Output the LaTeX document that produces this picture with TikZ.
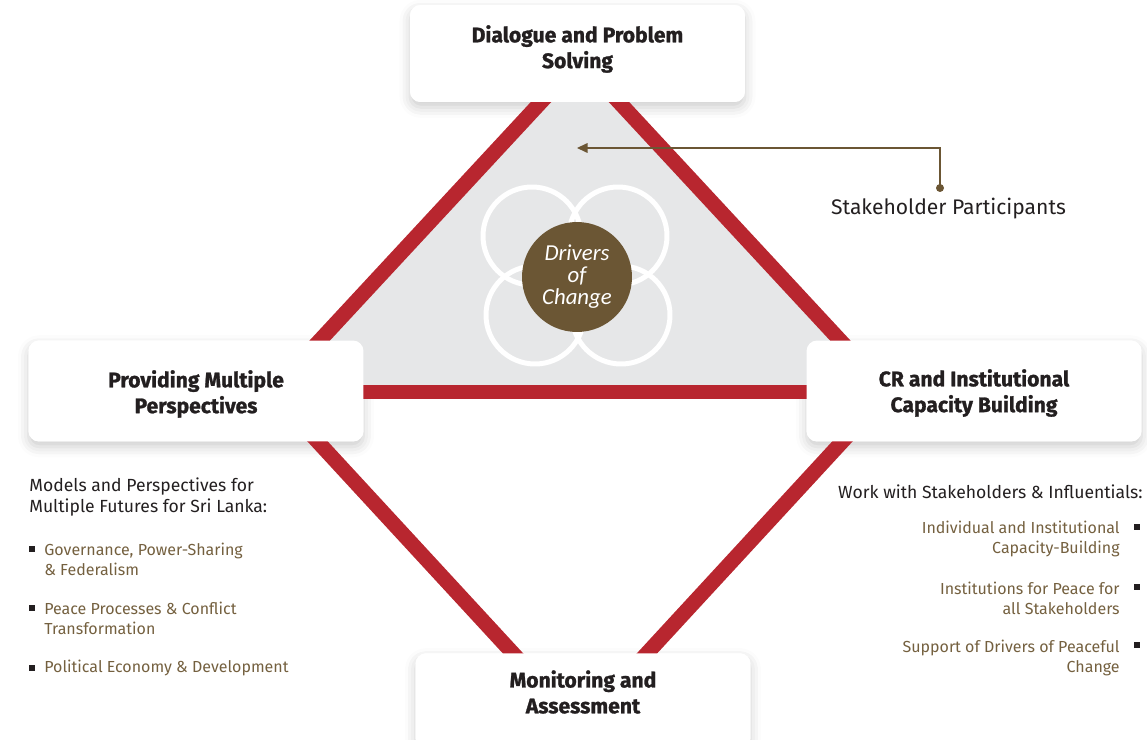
\documentclass[tikz,border=0pt]{standalone}
\usepackage{fontspec}
\setmainfont{Fira Sans}[BoldFeatures={FakeBold=1.2}]
\newfontfamily\driverfont{Carlito}
\usetikzlibrary{arrows.meta, positioning, shadows.blur}
\definecolor{diamondred}{HTML}{B8262F}
\definecolor{bandgrey}{HTML}{E6E7E8}
\definecolor{driverbrown}{HTML}{6B5634}
\definecolor{itembrown}{HTML}{74603F}
\definecolor{textdark}{HTML}{231F20}
\tikzset{
  redline/.style={draw=diamondred, line width=0.3cm},
  ring/.style={draw=white, line width=0.1cm},
  driver/.style={circle, fill=driverbrown, minimum size=2.2cm, inner sep=0pt, align=center,
    text=white, font=\driverfont\itshape\fontsize{13}{12.5}\selectfont},
  stagebox/.style={fill=white, rounded corners=6pt, minimum width=6.7cm, minimum height=2cm},
  stageshadow/.style={stagebox,
    blur shadow={shadow xshift=0pt, shadow yshift=-3pt, shadow blur radius=6pt, shadow opacity=20}},
  stagetitle/.style={align=center, text=textdark, font=\bfseries\fontsize{12}{14.7}\selectfont},
  pointer/.style={draw=driverbrown, line width=0.7pt, -{Triangle[length=6pt, width=5.5pt]}},
  note/.style={text=textdark, font=\fontsize{12}{14}\selectfont},
  heading/.style={inner sep=0pt, align=left, text=textdark, font=\fontsize{10}{12.5}\selectfont},
  item/.style={inner sep=0pt, align=left, text=itembrown, font=\fontsize{9.1}{11.3}\selectfont},
  bulletsq/.style={rectangle, fill=textdark, minimum size=0.11cm, inner sep=0pt}
}
\begin{document}
\begin{tikzpicture}[x=0.02cm, y=-0.02cm, >=stealth]
  \useasboundingbox (0,0) rectangle (1147,740);

  % Shadows under the stage boxes
  \node[stageshadow, minimum height=1.94cm] (dialogueshadow) at (577.5,53.5) {};
  \node[stageshadow, minimum height=2.02cm] (perspectivesshadow) at (196,391) {};
  \node[stageshadow, minimum height=2.02cm] (capacityshadow) at (974,391) {};
  \node[stageshadow, minimum height=1.9cm, anchor=north] (monitoringshadow) at (583,653) {};

  % Diamond
  \coordinate (dtop) at (580,60);
  \coordinate (dleft) at (272,392);
  \coordinate (dright) at (888,392);
  \coordinate (dbottom) at (580,726);
  \fill[bandgrey] (dtop) -- (dright) -- (dleft) -- cycle;
  \draw[redline] (dtop) -- (dright) -- (dbottom) -- (dleft) -- cycle;
  \draw[redline] (dleft) -- (dright);

  % Rings
  \draw[ring] (532,236) circle (0.98cm);
  \draw[ring] (618,236) circle (0.98cm);
  \draw[ring] (535,315) circle (0.98cm);
  \draw[ring] (621,315) circle (0.98cm);
  \node[driver] (drivers) at (577,277) {Drivers\\of\\Change};

  % Stakeholders
  \coordinate (stkdot) at (940,188);
  \coordinate (stktip) at (577,148);
  \draw[pointer] (stkdot) |- (stktip);
  \fill[driverbrown] (stkdot) circle (0.08cm);
  \node[note] (stk) at (948.5,209) {Stakeholder Participants};

  % Stages
  \node[stagebox, minimum height=1.94cm] (dialogue) at (577.5,53.5) {};
  \node[stagetitle] (dialoguetitle) at (577.5,49) {Dialogue and Problem\\Solving};
  \node[stagebox, minimum height=2.02cm] (perspectives) at (196,391) {};
  \node[stagetitle] (perspectivestitle) at (196,394) {Providing Multiple\\Perspectives};
  \node[stagebox, minimum height=2.02cm] (capacity) at (974,391) {};
  \node[stagetitle] (capacitytitle) at (974,393) {CR and Institutional\\Capacity Building};
  \node[stagebox, minimum height=1.9cm, anchor=north] (monitoring) at (583,653) {};
  \node[stagetitle] (monitoringtitle) at (583,692) {Monitoring and\\Assessment};

  % Multiple futures
  \node[heading, anchor=west] (models) at (29,497) {Models and Perspectives for\\Multiple Futures for Sri Lanka:};
  \node[bulletsq] (mb1) at (32,549) {};
  \node[item, anchor=west] (m1) at (44,559) {Governance, Power-Sharing\\\& Federalism};
  \node[bulletsq] (mb2) at (32,608) {};
  \node[item, anchor=west] (m2) at (44,618) {Peace Processes \& Conflict\\Transformation};
  \node[bulletsq] (mb3) at (32,668) {};
  \node[item, anchor=west] (m3) at (44,668) {Political Economy \& Development};

  % Stakeholders and influentials
  \node[heading, anchor=east] (work) at (1143,492) {Work with Stakeholders \& Influentials:};
  \node[bulletsq] (wb1) at (1137,527) {};
  \node[item, anchor=east, align=right] (w1) at (1120,539) {Individual and Institutional\\Capacity-Building};
  \node[bulletsq] (wb2) at (1137,587) {};
  \node[item, anchor=east, align=right] (w2) at (1120,598) {Institutions for Peace for\\all Stakeholders};
  \node[bulletsq] (wb3) at (1137,645) {};
  \node[item, anchor=east, align=right] (w3) at (1120,658) {Support of Drivers of Peaceful\\Change};
\end{tikzpicture}
\end{document}
